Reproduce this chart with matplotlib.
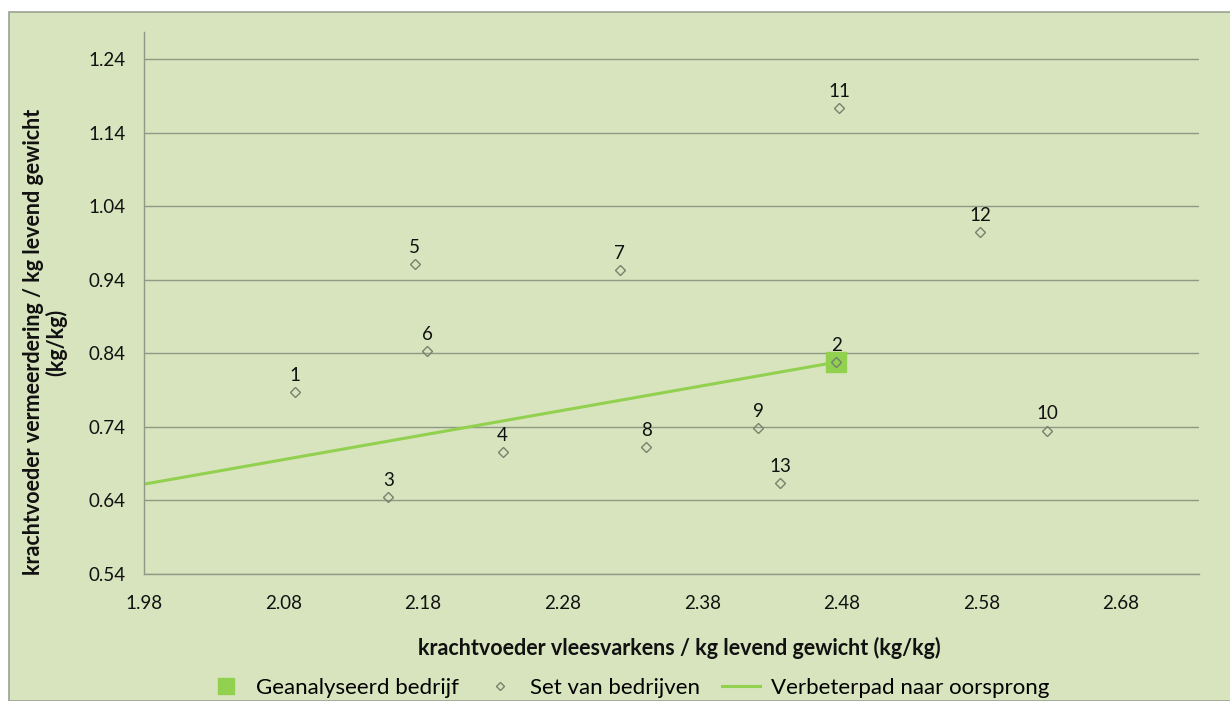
import matplotlib.pyplot as plt
from matplotlib.lines import Line2D
from matplotlib.patches import Rectangle

# bedrijven (x: krachtvoeder vleesvarkens, y: krachtvoeder vermeerdering)
bedrijf_nr = [1, 2, 3, 4, 5, 6, 7, 8, 9, 10, 11, 12, 13]
x_vlees = [2.088, 2.476, 2.155, 2.237, 2.174, 2.183, 2.321, 2.340, 2.420, 2.627, 2.478, 2.579, 2.436]
y_verm = [0.788, 0.828, 0.645, 0.706, 0.962, 0.843, 0.953, 0.713, 0.739, 0.735, 1.173, 1.005, 0.664]
geanalyseerd = 2  # nummer van het geanalyseerde bedrijf

x_ticks = [1.98, 2.08, 2.18, 2.28, 2.38, 2.48, 2.58, 2.68]
y_ticks = [0.54, 0.64, 0.74, 0.84, 0.94, 1.04, 1.14, 1.24]

bg = "#D8E4BD"
grid_c = "#8E9986"
green = "#92D050"
diamond_c = "#74826E"
txt_c = "#111111"

plt.rcParams["font.family"] = ["Lato", "DejaVu Sans"]

fig = plt.figure(figsize=(12.3, 7.01), dpi=100, facecolor="white")
fig.patches.append(Rectangle((9 / 1230, 0), 1.0, 1 - 12 / 701, transform=fig.transFigure,
                             facecolor=bg, edgecolor="#9AA394", linewidth=1.2, zorder=-10))

ax = fig.add_axes([144 / 1230, 1 - 574 / 701, (1199 - 144) / 1230, (574 - 32) / 701])
ax.set_facecolor("none")

i = bedrijf_nr.index(geanalyseerd)
xa, ya = x_vlees[i], y_verm[i]

# verbeterpad naar oorsprong
ax.plot([0, xa], [0, ya], color=green, lw=2.2, zorder=2)
ax.plot([xa], [ya], "s", ms=15, color=green, zorder=3)
ax.plot(x_vlees, y_verm, "D", ms=5.6, mfc="none", mec=diamond_c, mew=1.0, zorder=4)

for n, xv, yv in zip(bedrijf_nr, x_vlees, y_verm):
    ax.annotate(str(n), (xv, yv), xytext=(0, 8), textcoords="offset points",
                ha="center", va="baseline", fontsize=13.5, color=txt_c)

ax.set_xlim(1.98, 2.736)
ax.set_ylim(0.54, 1.277)
ax.set_xticks(x_ticks)
ax.set_yticks(y_ticks)
ax.set_xticklabels([f"{v:.2f}" for v in x_ticks])
ax.set_yticklabels([f"{v:.2f}" for v in y_ticks])
ax.tick_params(length=0, labelsize=13.5, labelcolor=txt_c)
ax.tick_params(axis="x", pad=15)
ax.tick_params(axis="y", pad=13)
ax.grid(axis="y", color=grid_c, lw=1.0)
ax.set_axisbelow(True)
for s in ["top", "right"]:
    ax.spines[s].set_visible(False)
for s in ["left", "bottom"]:
    ax.spines[s].set_color(grid_c)
    ax.spines[s].set_linewidth(1.0)

fig.text(679 / 1230, 1 - 648 / 701, "krachtvoeder vleesvarkens / kg levend gewicht (kg/kg)",
         ha="center", va="center", fontsize=15.5, fontweight="bold", color=txt_c)
fig.text(45 / 1230, 1 - 342 / 701, "krachtvoeder vermeerdering / kg levend gewicht\n(kg/kg)",
         ha="center", va="center", rotation=90, fontsize=15.5, fontweight="bold",
         color=txt_c, linespacing=1.05)

handles = [
    Line2D([], [], marker="s", ls="none", ms=11, color=green),
    Line2D([], [], marker="D", ls="none", ms=4.5, mfc="none", mec=diamond_c),
    Line2D([], [], color=green, lw=2.2),
]
labels = ["Geanalyseerd bedrijf", "Set van bedrijven", "Verbeterpad naar oorsprong"]
fig.legend(handles, labels, loc="center", bbox_to_anchor=(628 / 1230, 1 - 688 / 701), ncol=3,
           frameon=False, fontsize=16, columnspacing=1.0, handlelength=1.7, handletextpad=0.5)

fig.savefig("out.png", dpi=100, facecolor="white")
